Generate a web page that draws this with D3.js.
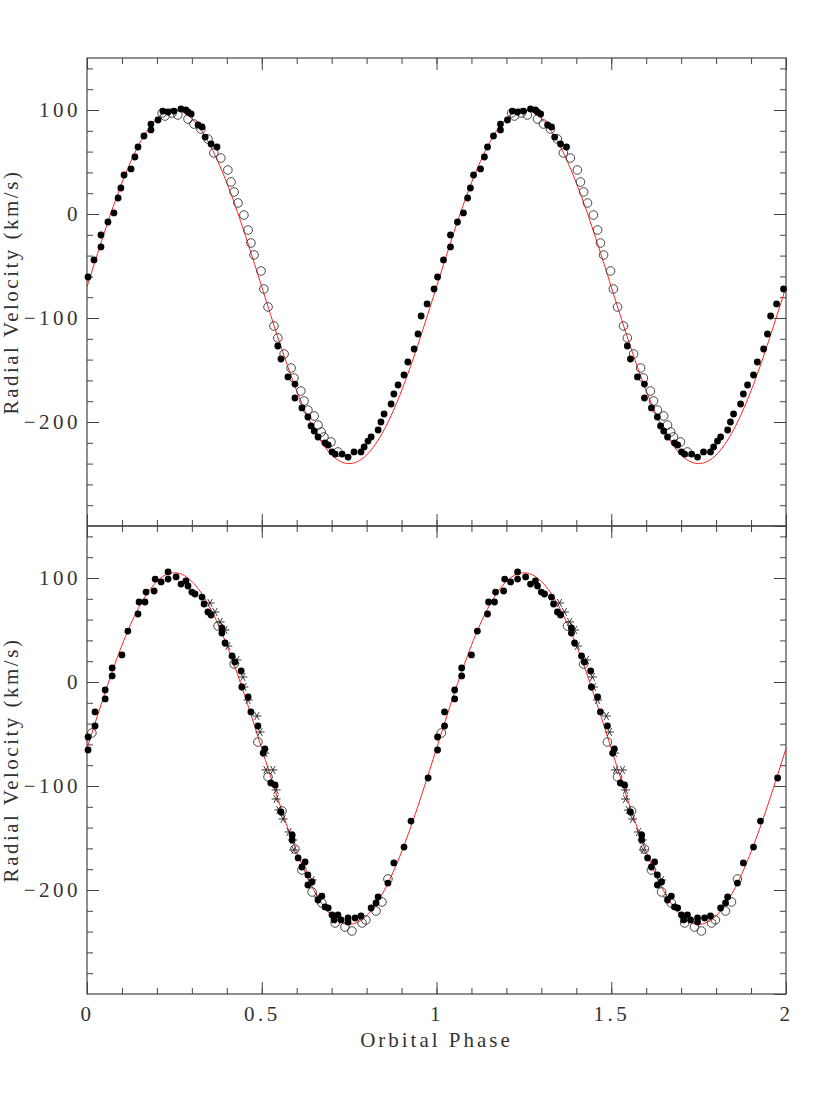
<!DOCTYPE html>
<html>
<head>
<meta charset="utf-8">
<script src="https://cdn.jsdelivr.net/npm/d3@7"></script>
<style>
  body { margin: 0; background: #fff; }
  svg text { font-family: "Liberation Serif", "DejaVu Serif", serif; fill: #333; }
</style>
</head>
<body>
<div id="chart"></div>
<script>
// phase-folded measurements for one cycle, drawn at phase and phase + 1
// top panel: filled = [phase, km/s]
const topFilled = [
  [0.003, -60.6], [0.020, -44.2], [0.040, -31.7], [0.040, -20.2], [0.060, -7.7],
  [0.077, 1.0], [0.089, 15.4], [0.097, 25.0], [0.106, 37.5], [0.126, 43.3],
  [0.137, 54.8], [0.146, 64.4], [0.163, 75.0], [0.183, 80.8], [0.183, 86.5],
  [0.203, 90.4], [0.217, 99.0], [0.232, 98.1], [0.249, 99.0], [0.269, 101.0],
  [0.283, 100.0], [0.289, 98.1], [0.298, 96.2], [0.318, 85.6], [0.329, 83.7],
  [0.338, 74.0], [0.355, 67.3], [0.372, 64.4],
  [0.546, -126.9], [0.555, -139.4], [0.575, -156.7], [0.595, -163.5], [0.595, -176.9],
  [0.615, -186.5], [0.632, -195.2], [0.641, -203.8], [0.650, -208.7], [0.661, -214.4],
  [0.681, -220.2], [0.690, -222.1], [0.701, -228.8], [0.710, -230.8], [0.730, -230.8],
  [0.747, -233.7], [0.764, -228.8], [0.784, -228.8], [0.793, -224.0], [0.804, -218.3],
  [0.813, -214.4], [0.833, -207.7], [0.841, -200.0], [0.850, -192.3], [0.870, -182.7],
  [0.878, -173.1], [0.890, -164.4], [0.907, -154.8], [0.918, -142.3], [0.936, -129.8],
  [0.947, -115.4], [0.956, -98.1], [0.973, -86.5], [0.993, -72.1]
];
const topOpen = [
  [0.215, 97.1], [0.223, 94.2], [0.243, 97.1], [0.260, 95.2], [0.289, 91.3],
  [0.306, 86.5], [0.326, 81.7], [0.346, 72.1], [0.363, 58.7], [0.383, 53.8],
  [0.403, 42.3], [0.412, 30.8], [0.421, 21.2], [0.432, 10.6], [0.449, -1.0],
  [0.461, -15.4], [0.469, -27.9], [0.478, -39.4], [0.498, -54.8], [0.506, -72.1],
  [0.518, -89.4], [0.535, -107.7], [0.546, -119.2], [0.564, -134.6], [0.584, -148.1],
  [0.592, -157.7], [0.612, -170.2], [0.621, -179.8], [0.632, -188.5], [0.650, -194.2],
  [0.661, -202.9], [0.670, -209.6], [0.678, -214.4], [0.698, -219.2], [0.718, -228.8]
];
// bottom panel
const botFilled = [
  [0.003, -65.4], [0.003, -52.9], [0.023, -42.3], [0.023, -28.8], [0.052, -16.3],
  [0.052, -7.7], [0.072, 5.8], [0.072, 13.5], [0.100, 26.0], [0.117, 49.0],
  [0.146, 65.4], [0.149, 76.9], [0.166, 76.9], [0.169, 86.5], [0.192, 87.5],
  [0.195, 99.0], [0.212, 96.2], [0.232, 99.0], [0.232, 105.8], [0.255, 101.0],
  [0.269, 94.2], [0.283, 97.1], [0.289, 92.3], [0.300, 86.5], [0.309, 84.6],
  [0.329, 81.7], [0.335, 75.0], [0.346, 67.3], [0.355, 64.4], [0.386, 51.9],
  [0.386, 47.1], [0.395, 37.5], [0.415, 25.0], [0.423, 19.2], [0.441, 10.6],
  [0.443, -4.8], [0.461, -14.4], [0.469, -28.8], [0.489, -42.3], [0.504, -68.3],
  [0.509, -64.4], [0.526, -97.1], [0.538, -99.0], [0.555, -125.0], [0.587, -147.1],
  [0.587, -151.9], [0.604, -169.2], [0.624, -173.1], [0.615, -177.9], [0.632, -185.6],
  [0.632, -195.2], [0.644, -192.3], [0.661, -209.6], [0.672, -205.8], [0.681, -216.3],
  [0.690, -217.3], [0.701, -224.0], [0.718, -224.0], [0.707, -228.8], [0.727, -228.8],
  [0.747, -226.9], [0.747, -230.8], [0.767, -226.9], [0.784, -225.0], [0.813, -217.3],
  [0.827, -212.5], [0.833, -206.7], [0.861, -193.3], [0.878, -174.0], [0.907, -158.7],
  [0.927, -133.7], [0.976, -92.3]
];
const botOpen = [
  [0.014, -49.0], [0.375, 53.8], [0.421, 17.3], [0.489, -57.7], [0.518, -91.3],
  [0.558, -124.0], [0.595, -160.6], [0.615, -180.8], [0.644, -201.9], [0.672, -212.5],
  [0.710, -231.7], [0.738, -235.6], [0.758, -239.4], [0.787, -231.7], [0.798, -228.8],
  [0.827, -220.2], [0.844, -211.5], [0.861, -189.4]
];
const botStar = [
  [0.352, 76.0], [0.366, 67.3], [0.381, 57.7], [0.395, 50.0], [0.403, 34.6],
  [0.429, 21.2], [0.446, 4.8], [0.449, -4.8], [0.461, -17.3], [0.486, -32.7],
  [0.495, -48.1], [0.509, -68.3], [0.512, -84.6], [0.532, -84.6], [0.541, -103.8],
  [0.541, -112.5], [0.549, -123.1], [0.561, -131.7], [0.578, -144.2], [0.589, -151.9],
  [0.592, -161.5], [0.644, -190.4], [0.661, -206.7]
];

// orbit fits: systemic velocity, semi-amplitude (km/s)
const topFit = { gamma: -70, K: 170 };
const botFit = { gamma: -64, K: 169 };

const xTicks = [0, 0.5, 1, 1.5, 2];
const yTicks = [-300, -200, -100, 0, 100];

const width = 830, height = 1106;
const margin = { left: 87, right: 44, top: 58 };
const panelH = 468;
const plotW = width - margin.left - margin.right;

const svg = d3.select('#chart').append('svg')
  .attr('width', width)
  .attr('height', height);

const x = d3.scaleLinear().domain([0, 2]).range([0, plotW]);
const xMinor = d3.range(0, 2.0001, 0.1).map(d => +d.toFixed(1));
const yMinor = d3.range(-280, 150, 20);

function fold(data) {
  return data.concat(data.map(d => [d[0] + 1, d[1]]));
}

function drawPanel(top, fit, filled, open, star, showX) {
  const y = d3.scaleLinear().domain([-300, 150]).range([panelH, 0]);
  const g = svg.append('g').attr('transform', `translate(${margin.left}, ${top})`);

  const styleAxis = sel => {
    sel.select('.domain').remove();
    sel.selectAll('line').attr('stroke', '#444');
    sel.selectAll('text').attr('font-size', 21).style('letter-spacing', '3.5px')
      .style('font-family', '"Liberation Serif", serif').attr('fill', '#333');
  };

  // minor ticks
  g.append('g').call(d3.axisLeft(y).tickValues(yMinor).tickSize(-6).tickFormat('')).call(styleAxis);
  g.append('g').attr('transform', `translate(${plotW},0)`)
    .call(d3.axisRight(y).tickValues(yMinor).tickSize(-6).tickFormat('')).call(styleAxis);
  g.append('g').call(d3.axisTop(x).tickValues(xMinor).tickSize(-6).tickFormat('')).call(styleAxis);
  g.append('g').attr('transform', `translate(0,${panelH})`)
    .call(d3.axisBottom(x).tickValues(xMinor).tickSize(-6).tickFormat('')).call(styleAxis);

  // major ticks
  g.append('g').call(d3.axisLeft(y).tickValues(yTicks.filter(d => d > -300)).tickSize(-12).tickPadding(6)
    .tickFormat(d3.format('d'))).call(styleAxis);
  g.append('g').attr('transform', `translate(${plotW},0)`)
    .call(d3.axisRight(y).tickValues(yTicks).tickSize(-12).tickFormat('')).call(styleAxis);
  g.append('g').call(d3.axisTop(x).tickValues(xTicks).tickSize(-12).tickFormat('')).call(styleAxis);
  g.append('g').attr('transform', `translate(0,${panelH})`)
    .call(d3.axisBottom(x).tickValues(xTicks).tickSize(-12).tickPadding(12)
      .tickFormat(showX ? d3.format('') : '')).call(styleAxis);

  // frame
  g.append('rect')
    .attr('width', plotW).attr('height', panelH)
    .attr('fill', 'none').attr('stroke', '#444').attr('stroke-width', 1.2);

  // fitted curve
  const curve = d3.range(0, 2.0001, 0.005).map(p => [p, fit.gamma + fit.K * Math.sin(2 * Math.PI * p)]);
  g.append('path')
    .datum(curve)
    .attr('fill', 'none')
    .attr('stroke', '#ff2020')
    .attr('stroke-width', 1)
    .attr('d', d3.line().x(d => x(d[0])).y(d => y(d[1])));

  g.selectAll('.open')
    .data(fold(open))
    .join('circle')
    .attr('class', 'open')
    .attr('cx', d => x(d[0]))
    .attr('cy', d => y(d[1]))
    .attr('r', 4.3)
    .attr('fill', 'none')
    .attr('stroke', '#333')
    .attr('stroke-width', 0.9);

  const star6 = 'M-4.5,0L4.5,0M-2.25,-3.9L2.25,3.9M-2.25,3.9L2.25,-3.9';
  g.selectAll('.star')
    .data(fold(star))
    .join('path')
    .attr('class', 'star')
    .attr('transform', d => `translate(${x(d[0])},${y(d[1])})`)
    .attr('d', star6)
    .attr('stroke', '#222')
    .attr('stroke-width', 0.9);

  g.selectAll('.filled')
    .data(fold(filled))
    .join('circle')
    .attr('class', 'filled')
    .attr('cx', d => x(d[0]))
    .attr('cy', d => y(d[1]))
    .attr('r', 3.4)
    .attr('fill', '#000');

  // y title
  svg.append('text')
    .attr('transform', `translate(18, ${top + panelH / 2}) rotate(-90)`)
    .attr('text-anchor', 'middle')
    .attr('font-size', 21)
    .style('letter-spacing', '2.5px')
    .text('Radial Velocity (km/s)');
}

drawPanel(margin.top, topFit, topFilled, topOpen, [], false);
drawPanel(margin.top + panelH, botFit, botFilled, botOpen, botStar, true);

svg.append('text')
  .attr('x', margin.left + plotW / 2)
  .attr('y', 1047)
  .attr('text-anchor', 'middle')
  .attr('font-size', 21)
  .style('letter-spacing', '3px')
  .text('Orbital Phase');
</script>
</body>
</html>
